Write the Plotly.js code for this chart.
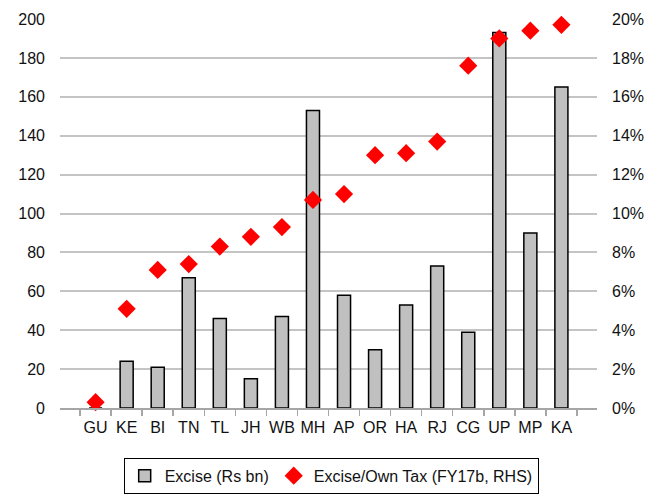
<!DOCTYPE html>
<html>
<head>
<meta charset="utf-8">
<script src="https://cdn.plot.ly/plotly-3.0.1.min.js"></script>
<style>
  html, body { margin: 0; padding: 0; background: #fff; }
  #chart { width: 661px; height: 496px; }
</style>
</head>
<body>
<div id="chart"></div>
<script>
// State codes along the category axis
const states = ['GU', 'KE', 'BI', 'TN', 'TL', 'JH', 'WB', 'MH', 'AP', 'OR', 'HA', 'RJ', 'CG', 'UP', 'MP', 'KA'];
// Excise revenue, Rs bn (left axis)
const exciseRsBn = [0, 24, 21, 67, 46, 15, 47, 153, 58, 30, 53, 73, 39, 193, 90, 165];
// Excise as a share of own tax revenue, FY17b (right axis)
const exciseShareOwnTax = [0.003, 0.051, 0.071, 0.074, 0.083, 0.088, 0.093, 0.107, 0.110, 0.130, 0.131, 0.137, 0.176, 0.190, 0.194, 0.197];

const leftTicks = [0, 20, 40, 60, 80, 100, 120, 140, 160, 180, 200];
const rightTicks = [0, 0.02, 0.04, 0.06, 0.08, 0.10, 0.12, 0.14, 0.16, 0.18, 0.20];

const font = { family: '"Liberation Sans", Arial, sans-serif', size: 16, color: '#111' };

const traces = [
  {
    type: 'bar',
    name: 'Excise (Rs bn)',
    x: states,
    y: exciseRsBn,
    marker: { color: '#C0C0C0', line: { color: '#000', width: 1.5 } },
    yaxis: 'y'
  },
  {
    type: 'scatter',
    mode: 'markers',
    name: 'Excise/Own Tax (FY17b, RHS)',
    x: states,
    y: exciseShareOwnTax,
    marker: { symbol: 'diamond', color: '#FF0000', size: 14 },
    cliponaxis: false,
    yaxis: 'y2'
  }
];

const layout = {
  width: 661,
  height: 496,
  margin: { l: 60, r: 64, t: 19, b: 88, autoexpand: false },
  paper_bgcolor: '#fff',
  plot_bgcolor: '#fff',
  font: font,
  bargap: 0.58,
  showlegend: true,
  legend: {
    orientation: 'h',
    x: 0.505,
    xanchor: 'center',
    y: -0.128,
    yanchor: 'top',
    bordercolor: '#000',
    borderwidth: 1,
    itemwidth: 30,
    tracegroupgap: 0,
    font: font
  },
  xaxis: {
    type: 'category',
    tickangle: 0,
    automargin: false,
    tickson: 'boundaries',
    ticks: 'outside',
    ticklen: 6,
    tickwidth: 1.5,
    tickcolor: '#A6A6A6',
    showline: true,
    linecolor: '#A6A6A6',
    linewidth: 1.5,
    showgrid: false,
    ticklabelstandoff: 4,
    tickfont: font
  },
  yaxis: {
    range: [0, 200],
    tickvals: leftTicks,
    automargin: false,
    showgrid: true,
    gridcolor: '#C4C4C4',
    gridwidth: 2,
    zeroline: false,
    showline: false,
    ticks: '',
    ticklabelstandoff: 14,
    tickfont: font
  },
  yaxis2: {
    overlaying: 'y',
    side: 'right',
    range: [0, 0.2],
    tickvals: rightTicks,
    tickformat: '.0%',
    automargin: false,
    showgrid: false,
    zeroline: false,
    showline: false,
    ticks: '',
    ticklabelstandoff: 14,
    tickfont: font
  }
};

Plotly.newPlot('chart', traces, layout, { displayModeBar: false, staticPlot: true });
</script>
</body>
</html>
